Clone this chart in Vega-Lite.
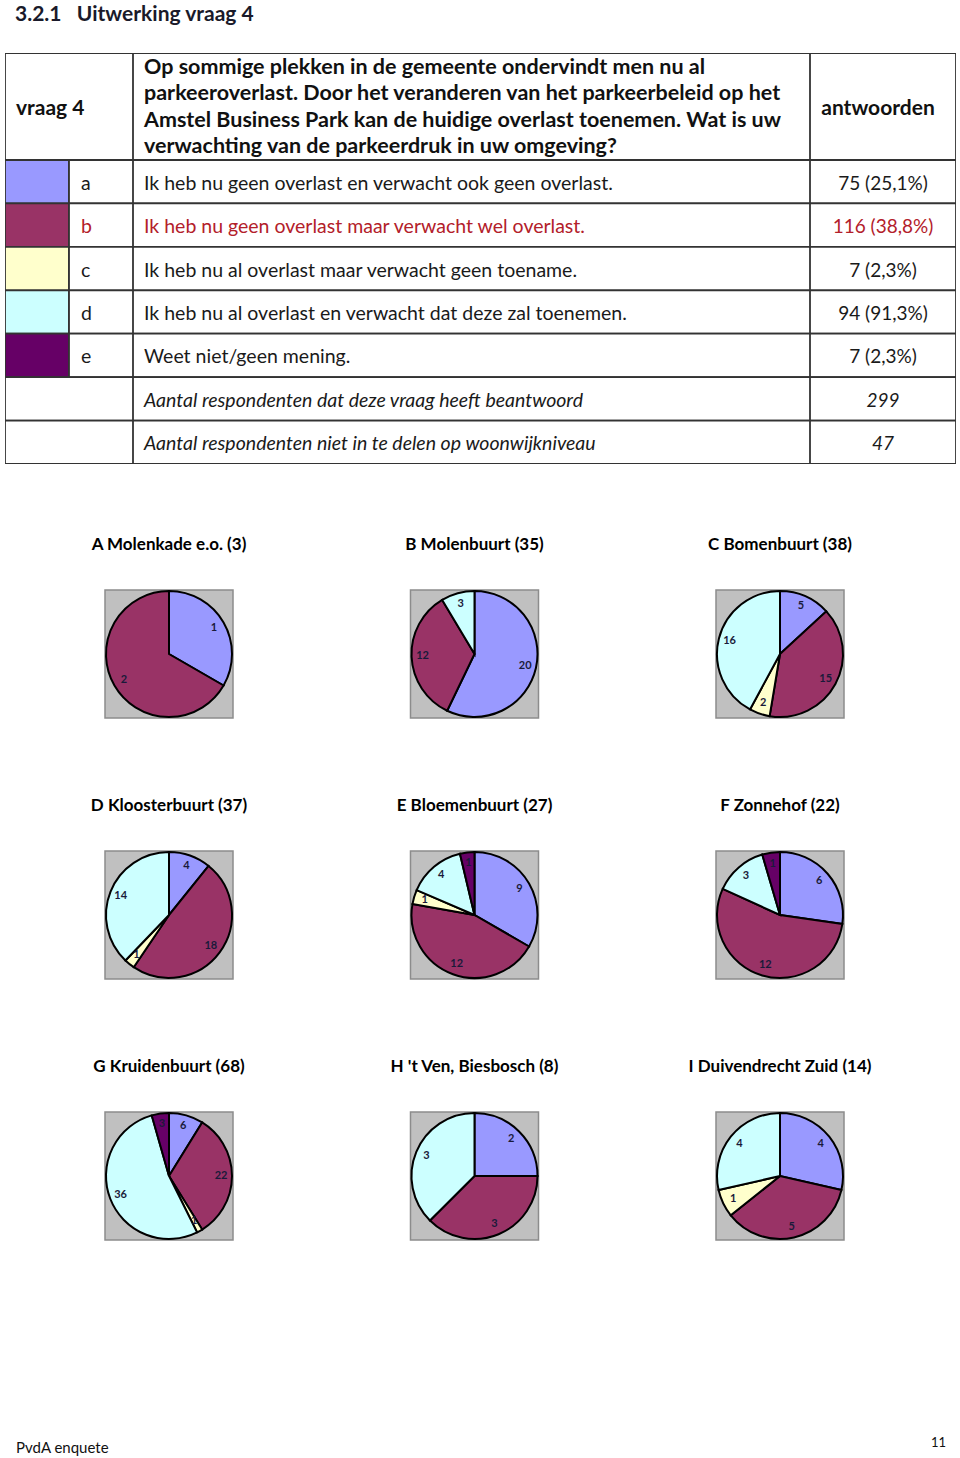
{
  "$schema": "https://vega.github.io/schema/vega-lite/v6.json",
  "padding": {"left": 5, "top": 4, "right": 0, "bottom": 0},
  "background": "white",
  "config": {
    "view": {"stroke": null},
    "font": "Lato",
    "title": {"font": "Lato", "fontSize": 17, "fontWeight": "bold", "color": "#000000", "offset": 33, "baseline": "top"}
  },
  "datasets": {
    "rows": [
      {"row": "a", "letter": "a", "opt": "a", "text": "Ik heb nu geen overlast en verwacht ook geen overlast.", "answer": "75 (25,1%)"},
      {"row": "b", "letter": "b", "opt": "b", "text": "Ik heb nu geen overlast maar verwacht wel overlast.", "answer": "116 (38,8%)"},
      {"row": "c", "letter": "c", "opt": "c", "text": "Ik heb nu al overlast maar verwacht geen toename.", "answer": "7 (2,3%)"},
      {"row": "d", "letter": "d", "opt": "d", "text": "Ik heb nu al overlast en verwacht dat deze zal toenemen.", "answer": "94 (91,3%)"},
      {"row": "e", "letter": "e", "opt": "e", "text": "Weet niet/geen mening.", "answer": "7 (2,3%)"},
      {"row": "n1", "letter": "", "opt": null, "text": "Aantal respondenten dat deze vraag heeft beantwoord", "answer": "299"},
      {"row": "n2", "letter": "", "opt": null, "text": "Aantal respondenten niet in te delen op woonwijkniveau", "answer": "47"}
    ],
    "pies": [
      {"wijk": "A", "opt": "a", "n": 1}, {"wijk": "A", "opt": "b", "n": 2},
      {"wijk": "B", "opt": "a", "n": 20}, {"wijk": "B", "opt": "b", "n": 12}, {"wijk": "B", "opt": "d", "n": 3},
      {"wijk": "C", "opt": "a", "n": 5}, {"wijk": "C", "opt": "b", "n": 15}, {"wijk": "C", "opt": "c", "n": 2}, {"wijk": "C", "opt": "d", "n": 16},
      {"wijk": "D", "opt": "a", "n": 4}, {"wijk": "D", "opt": "b", "n": 18}, {"wijk": "D", "opt": "c", "n": 1}, {"wijk": "D", "opt": "d", "n": 14},
      {"wijk": "E", "opt": "a", "n": 9}, {"wijk": "E", "opt": "b", "n": 12}, {"wijk": "E", "opt": "c", "n": 1}, {"wijk": "E", "opt": "d", "n": 4}, {"wijk": "E", "opt": "e", "n": 1},
      {"wijk": "F", "opt": "a", "n": 6}, {"wijk": "F", "opt": "b", "n": 12}, {"wijk": "F", "opt": "d", "n": 3}, {"wijk": "F", "opt": "e", "n": 1},
      {"wijk": "G", "opt": "a", "n": 6}, {"wijk": "G", "opt": "b", "n": 22}, {"wijk": "G", "opt": "c", "n": 1}, {"wijk": "G", "opt": "d", "n": 36}, {"wijk": "G", "opt": "e", "n": 3},
      {"wijk": "H", "opt": "a", "n": 2}, {"wijk": "H", "opt": "b", "n": 3}, {"wijk": "H", "opt": "d", "n": 3},
      {"wijk": "I", "opt": "a", "n": 4}, {"wijk": "I", "opt": "b", "n": 5}, {"wijk": "I", "opt": "c", "n": 1}, {"wijk": "I", "opt": "d", "n": 4}
    ]
  },
  "spacing": 0,
  "resolve": {"scale": {"theta": "independent"}},
  "vconcat": [
    {
      "title": {"text": "3.2.1\u00a0\u00a0\u00a0Uitwerking vraag 4", "anchor": "start", "dx": 10, "fontSize": 21, "fontWeight": "bold", "color": "#1a1a2a", "offset": 28},
      "bounds": "flush",
      "spacing": 0,
      "hconcat": [
        {
          "width": 128, "height": 107,
          "data": {"values": [{"t": "vraag 4"}]},
          "layer": [
            {"mark": {"type": "rect", "fill": "white", "stroke": "#333333", "strokeWidth": 1.8, "clip": true}, "encoding": {}},
            {"mark": {"type": "text", "align": "left", "dx": 11, "dy": 2, "fontSize": 21, "fontWeight": "bold", "color": "#111111", "clip": true},
             "encoding": {"x": {"datum": 0, "type": "quantitative", "scale": {"domain": [0, 1]}, "axis": null}, "text": {"field": "t"}}}
          ]
        },
        {
          "width": 677, "height": 107,
          "data": {"values": [{"t": "q"}]},
          "layer": [
            {"mark": {"type": "rect", "fill": "white", "stroke": "#333333", "strokeWidth": 1.8, "clip": true}, "encoding": {}},
            {"mark": {"type": "text", "align": "left", "dx": 11, "dy": -39, "fontSize": 21.5, "fontWeight": "bold", "color": "#111111", "lineHeight": 26.5, "clip": true},
             "encoding": {"x": {"datum": 0, "type": "quantitative", "scale": {"domain": [0, 1]}, "axis": null},
                          "text": {"value": ["Op sommige plekken in de gemeente ondervindt men nu al", "parkeeroverlast. Door het veranderen van het parkeerbeleid op het", "Amstel Business Park kan de huidige overlast toenemen. Wat is uw", "verwachting van de parkeerdruk in uw omgeving?"]}}}
          ]
        },
        {
          "width": 146, "height": 107,
          "data": {"values": [{"t": "antwoorden"}]},
          "layer": [
            {"mark": {"type": "rect", "fill": "white", "stroke": "#333333", "strokeWidth": 1.8, "clip": true}, "encoding": {}},
            {"mark": {"type": "text", "align": "center", "dx": -5, "dy": 2, "fontSize": 21, "fontWeight": "bold", "color": "#111111", "clip": true}, "encoding": {"text": {"field": "t"}}}
          ]
        }
      ]
    },
    {
      "bounds": "flush",
      "spacing": 0,
      "hconcat": [
        {
          "width": 128, "height": 304,
          "data": {"name": "rows"},
          "layer": [
            {"transform": [{"filter": "datum.opt != null"}],
             "mark": {"type": "rect", "stroke": "#333333", "strokeWidth": 1.8, "clip": true},
             "encoding": {
               "x": {"datum": "swatch", "type": "nominal", "scale": {"domain": ["swatch", "letter"], "paddingInner": 0, "paddingOuter": 0}, "axis": null},
               "y": {"field": "row", "type": "nominal", "scale": {"domain": ["a", "b", "c", "d", "e", "n1", "n2"], "paddingInner": 0, "paddingOuter": 0}, "axis": null},
               "color": {"field": "opt", "type": "nominal", "scale": {"domain": ["a", "b", "c", "d", "e"], "range": ["#9999FF", "#993366", "#FFFFCC", "#CCFFFF", "#660066"]}, "legend": null}
             }},
            {"transform": [{"filter": "datum.opt != null"}],
             "mark": {"type": "rect", "fill": "white", "stroke": "#333333", "strokeWidth": 1.8, "clip": true},
             "encoding": {
               "x": {"datum": "letter", "type": "nominal", "axis": null},
               "y": {"field": "row", "type": "nominal", "axis": null}
             }},
            {"transform": [{"filter": "datum.opt == null"}],
             "mark": {"type": "rect", "fill": "white", "stroke": "#333333", "strokeWidth": 1.8, "clip": true},
             "encoding": {"y": {"field": "row", "type": "nominal", "axis": null}}},
            {"transform": [{"filter": "datum.opt != null"}],
             "mark": {"type": "text", "align": "left", "dx": -20, "dy": 2, "fontSize": 19.5, "clip": true},
             "encoding": {
               "x": {"datum": "letter", "type": "nominal", "axis": null},
               "y": {"field": "row", "type": "nominal", "axis": null},
               "text": {"field": "letter"},
               "color": {"condition": {"test": "datum.row === 'b'", "value": "#B3202A"}, "value": "#1a1a1a"}
             }}
          ]
        },
        {
          "width": 677, "height": 304,
          "data": {"name": "rows"},
          "layer": [
            {"mark": {"type": "rect", "fill": "white", "stroke": "#333333", "strokeWidth": 1.8, "clip": true},
             "encoding": {"y": {"field": "row", "type": "nominal", "scale": {"domain": ["a", "b", "c", "d", "e", "n1", "n2"], "paddingInner": 0, "paddingOuter": 0}, "axis": null}}},
            {"transform": [{"filter": "datum.opt != null"}],
             "mark": {"type": "text", "align": "left", "dx": 11, "dy": 2, "fontSize": 19.5, "clip": true},
             "encoding": {
               "x": {"datum": 0, "type": "quantitative", "scale": {"domain": [0, 1]}, "axis": null},
               "y": {"field": "row", "type": "nominal", "axis": null},
               "text": {"field": "text"},
               "color": {"condition": {"test": "datum.row === 'b'", "value": "#B3202A"}, "value": "#1a1a1a"}
             }},
            {"transform": [{"filter": "datum.opt == null"}],
             "mark": {"type": "text", "align": "left", "dx": 11, "dy": 2, "fontSize": 19.5, "fontStyle": "italic", "color": "#1a1a1a", "clip": true},
             "encoding": {
               "x": {"datum": 0, "type": "quantitative", "axis": null},
               "y": {"field": "row", "type": "nominal", "axis": null},
               "text": {"field": "text"}
             }}
          ]
        },
        {
          "width": 146, "height": 304,
          "data": {"name": "rows"},
          "layer": [
            {"mark": {"type": "rect", "fill": "white", "stroke": "#333333", "strokeWidth": 1.8, "clip": true},
             "encoding": {"y": {"field": "row", "type": "nominal", "scale": {"domain": ["a", "b", "c", "d", "e", "n1", "n2"], "paddingInner": 0, "paddingOuter": 0}, "axis": null}}},
            {"transform": [{"filter": "datum.opt != null"}],
             "mark": {"type": "text", "align": "center", "dy": 2, "fontSize": 19, "clip": true},
             "encoding": {
               "y": {"field": "row", "type": "nominal", "axis": null},
               "text": {"field": "answer"},
               "color": {"condition": {"test": "datum.row === 'b'", "value": "#B3202A"}, "value": "#1a1a1a"}
             }},
            {"transform": [{"filter": "datum.opt == null"}],
             "mark": {"type": "text", "align": "center", "dy": 2, "fontSize": 19, "fontStyle": "italic", "color": "#1a1a1a", "clip": true},
             "encoding": {
               "y": {"field": "row", "type": "nominal", "axis": null},
               "text": {"field": "answer"}
             }}
          ]
        }
      ]
    },
    {"width": 20, "height": 72, "data": {"values": [{}]}, "mark": {"type": "point", "opacity": 0, "size": 1}, "encoding": {}},
    {
      "spacing": 0,
      "resolve": {"scale": {"theta": "independent"}},
      "hconcat": [
        {"width": 328, "height": 128, "title": {"text": "A Molenkade e.o. (3)"},
         "layer": [
           {"data": {"values": [{}]}, "mark": {"type": "point", "shape": "square", "size": 16384, "filled": true, "fill": "#C0C0C0", "stroke": "#8c8c8c", "strokeWidth": 1.5, "opacity": 1}, "encoding": {}},
           {"data": {"name": "pies"}, "transform": [{"filter": "datum.wijk === 'A'"}], "mark": {"type": "arc", "outerRadius": 63, "stroke": "#000000", "strokeWidth": 2},
            "encoding": {"theta": {"field": "n", "type": "quantitative", "stack": true}, "order": {"field": "opt", "type": "nominal", "sort": "ascending"}, "color": {"field": "opt", "type": "nominal", "scale": {"domain": ["a", "b", "c", "d", "e"], "range": ["#9999FF", "#993366", "#FFFFCC", "#CCFFFF", "#660066"]}, "legend": null}}},
           {"data": {"name": "pies"}, "transform": [{"filter": "datum.wijk === 'A'"}], "mark": {"type": "text", "radius": 52, "fontSize": 11, "fontWeight": "bold", "color": "#1a1a3a"},
            "encoding": {"theta": {"field": "n", "type": "quantitative", "stack": true}, "order": {"field": "opt", "type": "nominal", "sort": "ascending"}, "text": {"field": "n", "type": "quantitative"}}}
         ]},
        {"width": 283, "height": 128, "title": {"text": "B Molenbuurt (35)"},
         "layer": [
           {"data": {"values": [{}]}, "mark": {"type": "point", "shape": "square", "size": 16384, "filled": true, "fill": "#C0C0C0", "stroke": "#8c8c8c", "strokeWidth": 1.5, "opacity": 1}, "encoding": {}},
           {"data": {"name": "pies"}, "transform": [{"filter": "datum.wijk === 'B'"}], "mark": {"type": "arc", "outerRadius": 63, "stroke": "#000000", "strokeWidth": 2},
            "encoding": {"theta": {"field": "n", "type": "quantitative", "stack": true}, "order": {"field": "opt", "type": "nominal", "sort": "ascending"}, "color": {"field": "opt", "type": "nominal", "scale": {"domain": ["a", "b", "c", "d", "e"], "range": ["#9999FF", "#993366", "#FFFFCC", "#CCFFFF", "#660066"]}, "legend": null}}},
           {"data": {"name": "pies"}, "transform": [{"filter": "datum.wijk === 'B'"}], "mark": {"type": "text", "radius": 52, "fontSize": 11, "fontWeight": "bold", "color": "#1a1a3a"},
            "encoding": {"theta": {"field": "n", "type": "quantitative", "stack": true}, "order": {"field": "opt", "type": "nominal", "sort": "ascending"}, "text": {"field": "n", "type": "quantitative"}}}
         ]},
        {"width": 328, "height": 128, "title": {"text": "C Bomenbuurt (38)"},
         "layer": [
           {"data": {"values": [{}]}, "mark": {"type": "point", "shape": "square", "size": 16384, "filled": true, "fill": "#C0C0C0", "stroke": "#8c8c8c", "strokeWidth": 1.5, "opacity": 1}, "encoding": {}},
           {"data": {"name": "pies"}, "transform": [{"filter": "datum.wijk === 'C'"}], "mark": {"type": "arc", "outerRadius": 63, "stroke": "#000000", "strokeWidth": 2},
            "encoding": {"theta": {"field": "n", "type": "quantitative", "stack": true}, "order": {"field": "opt", "type": "nominal", "sort": "ascending"}, "color": {"field": "opt", "type": "nominal", "scale": {"domain": ["a", "b", "c", "d", "e"], "range": ["#9999FF", "#993366", "#FFFFCC", "#CCFFFF", "#660066"]}, "legend": null}}},
           {"data": {"name": "pies"}, "transform": [{"filter": "datum.wijk === 'C'"}], "mark": {"type": "text", "radius": 52, "fontSize": 11, "fontWeight": "bold", "color": "#1a1a3a"},
            "encoding": {"theta": {"field": "n", "type": "quantitative", "stack": true}, "order": {"field": "opt", "type": "nominal", "sort": "ascending"}, "text": {"field": "n", "type": "quantitative"}}}
         ]}
      ]
    },
    {"width": 20, "height": 76, "data": {"values": [{}]}, "mark": {"type": "point", "opacity": 0, "size": 1}, "encoding": {}},
    {
      "spacing": 0,
      "resolve": {"scale": {"theta": "independent"}},
      "hconcat": [
        {"width": 328, "height": 128, "title": {"text": "D Kloosterbuurt (37)"},
         "layer": [
           {"data": {"values": [{}]}, "mark": {"type": "point", "shape": "square", "size": 16384, "filled": true, "fill": "#C0C0C0", "stroke": "#8c8c8c", "strokeWidth": 1.5, "opacity": 1}, "encoding": {}},
           {"data": {"name": "pies"}, "transform": [{"filter": "datum.wijk === 'D'"}], "mark": {"type": "arc", "outerRadius": 63, "stroke": "#000000", "strokeWidth": 2},
            "encoding": {"theta": {"field": "n", "type": "quantitative", "stack": true}, "order": {"field": "opt", "type": "nominal", "sort": "ascending"}, "color": {"field": "opt", "type": "nominal", "scale": {"domain": ["a", "b", "c", "d", "e"], "range": ["#9999FF", "#993366", "#FFFFCC", "#CCFFFF", "#660066"]}, "legend": null}}},
           {"data": {"name": "pies"}, "transform": [{"filter": "datum.wijk === 'D'"}], "mark": {"type": "text", "radius": 52, "fontSize": 11, "fontWeight": "bold", "color": "#1a1a3a"},
            "encoding": {"theta": {"field": "n", "type": "quantitative", "stack": true}, "order": {"field": "opt", "type": "nominal", "sort": "ascending"}, "text": {"field": "n", "type": "quantitative"}}}
         ]},
        {"width": 283, "height": 128, "title": {"text": "E Bloemenbuurt (27)"},
         "layer": [
           {"data": {"values": [{}]}, "mark": {"type": "point", "shape": "square", "size": 16384, "filled": true, "fill": "#C0C0C0", "stroke": "#8c8c8c", "strokeWidth": 1.5, "opacity": 1}, "encoding": {}},
           {"data": {"name": "pies"}, "transform": [{"filter": "datum.wijk === 'E'"}], "mark": {"type": "arc", "outerRadius": 63, "stroke": "#000000", "strokeWidth": 2},
            "encoding": {"theta": {"field": "n", "type": "quantitative", "stack": true}, "order": {"field": "opt", "type": "nominal", "sort": "ascending"}, "color": {"field": "opt", "type": "nominal", "scale": {"domain": ["a", "b", "c", "d", "e"], "range": ["#9999FF", "#993366", "#FFFFCC", "#CCFFFF", "#660066"]}, "legend": null}}},
           {"data": {"name": "pies"}, "transform": [{"filter": "datum.wijk === 'E'"}], "mark": {"type": "text", "radius": 52, "fontSize": 11, "fontWeight": "bold", "color": "#1a1a3a"},
            "encoding": {"theta": {"field": "n", "type": "quantitative", "stack": true}, "order": {"field": "opt", "type": "nominal", "sort": "ascending"}, "text": {"field": "n", "type": "quantitative"}}}
         ]},
        {"width": 328, "height": 128, "title": {"text": "F Zonnehof (22)"},
         "layer": [
           {"data": {"values": [{}]}, "mark": {"type": "point", "shape": "square", "size": 16384, "filled": true, "fill": "#C0C0C0", "stroke": "#8c8c8c", "strokeWidth": 1.5, "opacity": 1}, "encoding": {}},
           {"data": {"name": "pies"}, "transform": [{"filter": "datum.wijk === 'F'"}], "mark": {"type": "arc", "outerRadius": 63, "stroke": "#000000", "strokeWidth": 2},
            "encoding": {"theta": {"field": "n", "type": "quantitative", "stack": true}, "order": {"field": "opt", "type": "nominal", "sort": "ascending"}, "color": {"field": "opt", "type": "nominal", "scale": {"domain": ["a", "b", "c", "d", "e"], "range": ["#9999FF", "#993366", "#FFFFCC", "#CCFFFF", "#660066"]}, "legend": null}}},
           {"data": {"name": "pies"}, "transform": [{"filter": "datum.wijk === 'F'"}], "mark": {"type": "text", "radius": 52, "fontSize": 11, "fontWeight": "bold", "color": "#1a1a3a"},
            "encoding": {"theta": {"field": "n", "type": "quantitative", "stack": true}, "order": {"field": "opt", "type": "nominal", "sort": "ascending"}, "text": {"field": "n", "type": "quantitative"}}}
         ]}
      ]
    },
    {"width": 20, "height": 76, "data": {"values": [{}]}, "mark": {"type": "point", "opacity": 0, "size": 1}, "encoding": {}},
    {
      "spacing": 0,
      "resolve": {"scale": {"theta": "independent"}},
      "hconcat": [
        {"width": 328, "height": 128, "title": {"text": "G Kruidenbuurt (68)"},
         "layer": [
           {"data": {"values": [{}]}, "mark": {"type": "point", "shape": "square", "size": 16384, "filled": true, "fill": "#C0C0C0", "stroke": "#8c8c8c", "strokeWidth": 1.5, "opacity": 1}, "encoding": {}},
           {"data": {"name": "pies"}, "transform": [{"filter": "datum.wijk === 'G'"}], "mark": {"type": "arc", "outerRadius": 63, "stroke": "#000000", "strokeWidth": 2},
            "encoding": {"theta": {"field": "n", "type": "quantitative", "stack": true}, "order": {"field": "opt", "type": "nominal", "sort": "ascending"}, "color": {"field": "opt", "type": "nominal", "scale": {"domain": ["a", "b", "c", "d", "e"], "range": ["#9999FF", "#993366", "#FFFFCC", "#CCFFFF", "#660066"]}, "legend": null}}},
           {"data": {"name": "pies"}, "transform": [{"filter": "datum.wijk === 'G'"}], "mark": {"type": "text", "radius": 52, "fontSize": 11, "fontWeight": "bold", "color": "#1a1a3a"},
            "encoding": {"theta": {"field": "n", "type": "quantitative", "stack": true}, "order": {"field": "opt", "type": "nominal", "sort": "ascending"}, "text": {"field": "n", "type": "quantitative"}}}
         ]},
        {"width": 283, "height": 128, "title": {"text": "H 't Ven, Biesbosch (8)"},
         "layer": [
           {"data": {"values": [{}]}, "mark": {"type": "point", "shape": "square", "size": 16384, "filled": true, "fill": "#C0C0C0", "stroke": "#8c8c8c", "strokeWidth": 1.5, "opacity": 1}, "encoding": {}},
           {"data": {"name": "pies"}, "transform": [{"filter": "datum.wijk === 'H'"}], "mark": {"type": "arc", "outerRadius": 63, "stroke": "#000000", "strokeWidth": 2},
            "encoding": {"theta": {"field": "n", "type": "quantitative", "stack": true}, "order": {"field": "opt", "type": "nominal", "sort": "ascending"}, "color": {"field": "opt", "type": "nominal", "scale": {"domain": ["a", "b", "c", "d", "e"], "range": ["#9999FF", "#993366", "#FFFFCC", "#CCFFFF", "#660066"]}, "legend": null}}},
           {"data": {"name": "pies"}, "transform": [{"filter": "datum.wijk === 'H'"}], "mark": {"type": "text", "radius": 52, "fontSize": 11, "fontWeight": "bold", "color": "#1a1a3a"},
            "encoding": {"theta": {"field": "n", "type": "quantitative", "stack": true}, "order": {"field": "opt", "type": "nominal", "sort": "ascending"}, "text": {"field": "n", "type": "quantitative"}}}
         ]},
        {"width": 328, "height": 128, "title": {"text": "I Duivendrecht Zuid (14)"},
         "layer": [
           {"data": {"values": [{}]}, "mark": {"type": "point", "shape": "square", "size": 16384, "filled": true, "fill": "#C0C0C0", "stroke": "#8c8c8c", "strokeWidth": 1.5, "opacity": 1}, "encoding": {}},
           {"data": {"name": "pies"}, "transform": [{"filter": "datum.wijk === 'I'"}], "mark": {"type": "arc", "outerRadius": 63, "stroke": "#000000", "strokeWidth": 2},
            "encoding": {"theta": {"field": "n", "type": "quantitative", "stack": true}, "order": {"field": "opt", "type": "nominal", "sort": "ascending"}, "color": {"field": "opt", "type": "nominal", "scale": {"domain": ["a", "b", "c", "d", "e"], "range": ["#9999FF", "#993366", "#FFFFCC", "#CCFFFF", "#660066"]}, "legend": null}}},
           {"data": {"name": "pies"}, "transform": [{"filter": "datum.wijk === 'I'"}], "mark": {"type": "text", "radius": 52, "fontSize": 11, "fontWeight": "bold", "color": "#1a1a3a"},
            "encoding": {"theta": {"field": "n", "type": "quantitative", "stack": true}, "order": {"field": "opt", "type": "nominal", "sort": "ascending"}, "text": {"field": "n", "type": "quantitative"}}}
         ]}
      ]
    },
    {"width": 20, "height": 194, "data": {"values": [{}]}, "mark": {"type": "point", "opacity": 0, "size": 1}, "encoding": {}},
    {
      "width": 941, "height": 20,
      "data": {"values": [{"side": "L", "label": "PvdA enquete"}, {"side": "R", "label": "11"}]},
      "layer": [
        {"transform": [{"filter": "datum.side === 'L'"}],
         "mark": {"type": "text", "align": "left", "dx": 11, "fontSize": 15, "color": "#111111"},
         "encoding": {"x": {"field": "side", "type": "nominal", "scale": {"type": "point", "domain": ["L", "R"], "padding": 0}, "axis": null}, "text": {"field": "label"}}},
        {"transform": [{"filter": "datum.side === 'R'"}],
         "mark": {"type": "text", "align": "right", "dy": -5, "fontSize": 13, "color": "#111111"},
         "encoding": {"x": {"field": "side", "type": "nominal", "axis": null}, "text": {"field": "label"}}}
      ]
    }
  ]
}
